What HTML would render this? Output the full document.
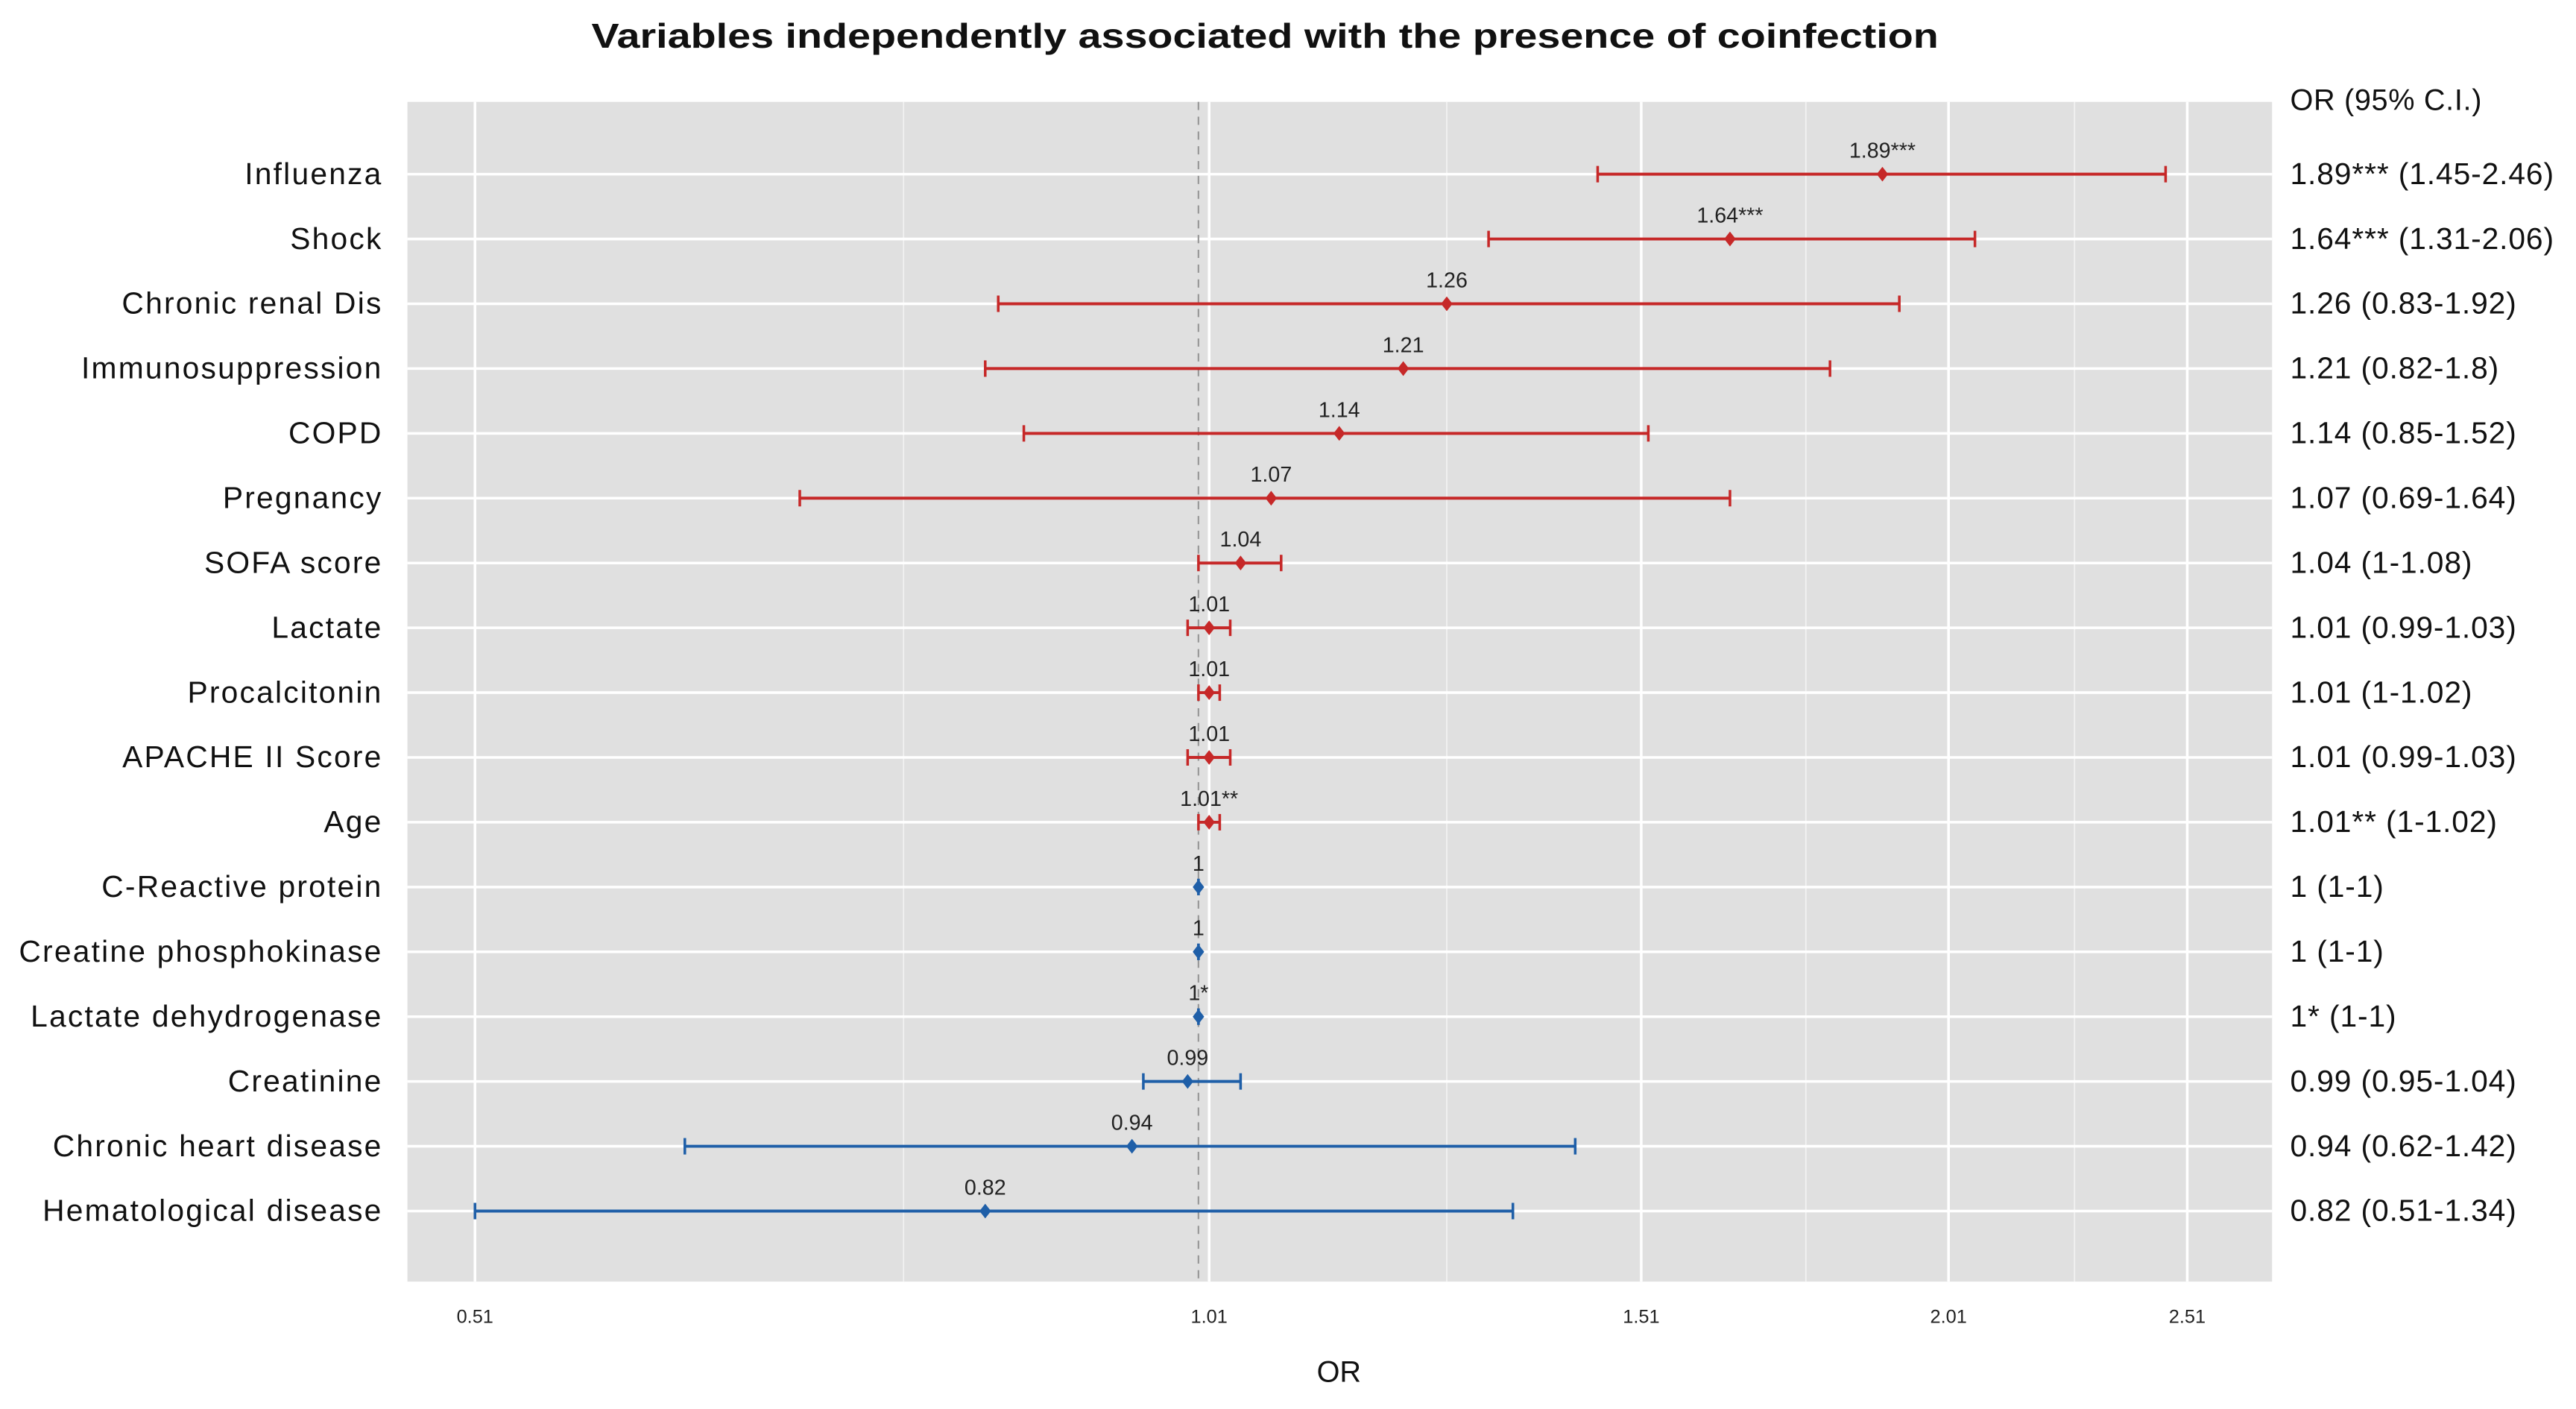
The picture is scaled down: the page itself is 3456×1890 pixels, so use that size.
<!DOCTYPE html>
<html><head><meta charset="utf-8"><style>
html,body{margin:0;padding:0;background:#fff;}
svg{display:block;font-family:"Liberation Sans",Arial,sans-serif;}
</style></head><body>
<svg id="chart" width="3456" height="1890" viewBox="0 0 1568 857.5" preserveAspectRatio="none" xmlns="http://www.w3.org/2000/svg">
<text x="770" y="29" text-anchor="middle" font-size="21" font-weight="bold" fill="#111" textLength="820" lengthAdjust="spacingAndGlyphs">Variables independently associated with the presence of coinfection</text>
<rect x="248" y="62" width="1135" height="718" fill="#e0e0e0"/>
<g id="grid"></g>
<g id="marks"></g>
<text x="1394" y="67" font-size="18" letter-spacing="0.3" fill="#111">OR (95% C.I.)</text>
<text x="815" y="841" text-anchor="middle" font-size="18" fill="#111">OR</text>
</svg>
<script>
const categories=["Influenza","Shock","Chronic renal Dis","Immunosuppression","COPD","Pregnancy","SOFA score","Lactate","Procalcitonin","APACHE II Score","Age","C-Reactive protein","Creatine phosphokinase","Lactate dehydrogenase","Creatinine","Chronic heart disease","Hematological disease"];
const orValues=[1.89,1.64,1.26,1.21,1.14,1.07,1.04,1.01,1.01,1.01,1.01,1,1,1,0.99,0.94,0.82];
const lowerCI=[1.45,1.31,0.83,0.82,0.85,0.69,1,0.99,1,0.99,1,1,1,1,0.95,0.62,0.51];
const upperCI=[2.46,2.06,1.92,1.8,1.52,1.64,1.08,1.03,1.02,1.03,1.02,1,1,1,1.04,1.42,1.34];
const sigMarks=["***","***","","","","","","","","","**","","","*","","",""];
const upperLabels=["2.46","2.06","1.92","1.8","1.52","1.64","1.08","1.03","1.02","1.03","1.02","1","1","1","1.04","1.42","1.34"];
const lowerLabels=["1.45","1.31","0.83","0.82","0.85","0.69","1","0.99","1","0.99","1","1","1","1","0.95","0.62","0.51"];
const xTicks=[0.51,1.01,1.51,2.01,2.51];
const xMinor=[0.76,1.26,1.76,2.26];

const NS="http://www.w3.org/2000/svg";
const x=v=>736+654*(Math.log(v)-Math.log(1.01));
const y=i=>106+i*39.44;
const grid=document.getElementById('grid'),marks=document.getElementById('marks'),svg=document.getElementById('chart');
function mk(tag,attrs,parent){const e=document.createElementNS(NS,tag);for(const k in attrs)e.setAttribute(k,attrs[k]);parent.appendChild(e);return e;}

xMinor.forEach(v=>{const l=mk('line',{x1:x(v),x2:x(v),y1:62,y2:780,stroke:'#f2f2f2','stroke-width':0.8},grid);

});
xTicks.forEach(v=>{const l=mk('line',{x1:x(v),x2:x(v),y1:62,y2:780,stroke:'#fff','stroke-width':1.6},grid);


const t=mk('text',{x:x(v),y:805,'text-anchor':'middle','font-size':11.5,fill:'#222'},svg);t.textContent=v.toFixed(2);

});
categories.forEach((c,i)=>{const l=mk('line',{x1:248,x2:1383,y1:y(i),y2:y(i),stroke:'#fff','stroke-width':1.6},grid);

});
const ref=mk('line',{x1:x(1),x2:x(1),y1:62,y2:780,stroke:'#999','stroke-width':1,'stroke-dasharray':'5,4'},grid);



categories.forEach((c,i)=>{
 const col=orValues[i]>1?'#c62828':'#1f5fa8';
 const yy=y(i);
 const g=mk('g',{},marks);
 
 
 const ln=mk('line',{x1:x(lowerCI[i]),x2:x(upperCI[i]),y1:yy,y2:yy,stroke:col,'stroke-width':1.8},g);
 
 
 [lowerCI[i],upperCI[i]].forEach(v=>{const cap=mk('line',{x1:x(v),x2:x(v),y1:yy-5,y2:yy+5,stroke:col,'stroke-width':1.6},g);
 
 });
 const px=x(orValues[i]);
 const pt=mk('path',{d:`M${px} ${yy-4.5}L${px+3.5} ${yy}L${px} ${yy+4.5}L${px-3.5} ${yy}Z`,fill:col},g);
 
 
 const lab=String(orValues[i])+sigMarks[i];
 const vt=mk('text',{x:px,y:yy-10,'text-anchor':'middle','font-size':13,fill:'#222'},g);vt.textContent=lab;
 
 
 const ct=mk('text',{x:233,y:yy+6,'text-anchor':'end','font-size':18.5,'letter-spacing':1,fill:'#111'},svg);ct.textContent=c;
 
 
 const rt=mk('text',{x:1394,y:yy+6,'font-size':18.5,'letter-spacing':0.4,fill:'#111'},svg);rt.textContent=lab+' ('+lowerLabels[i]+'-'+upperLabels[i]+')';
 
 
});
</script>
</body></html>
